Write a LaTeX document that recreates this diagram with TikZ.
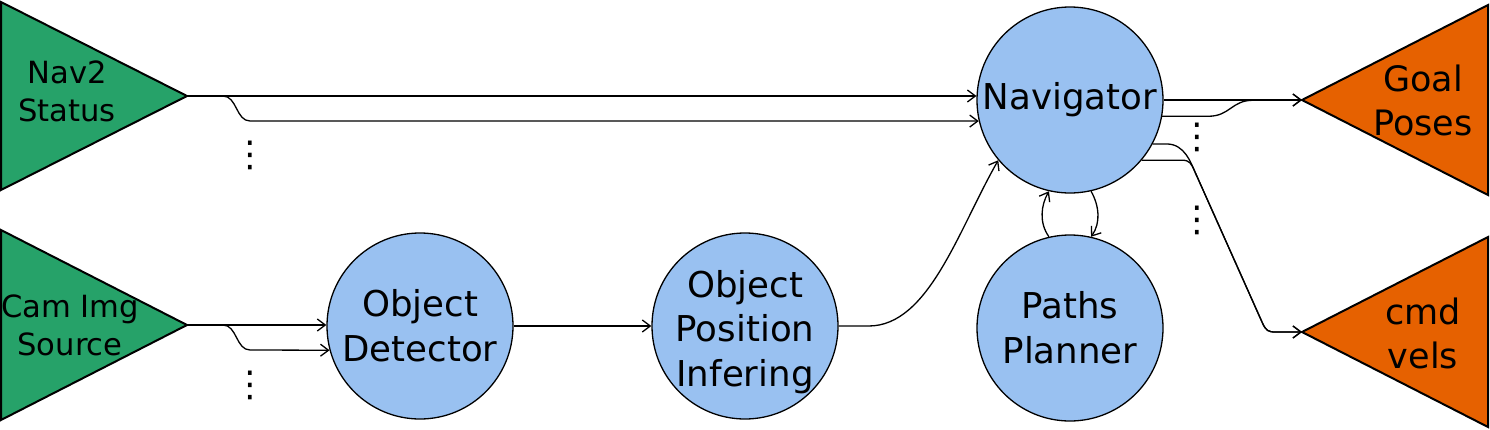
\documentclass[tikz,border=0pt]{standalone}
\usepackage{fontspec}
\setmainfont{DejaVu Sans}
\usetikzlibrary{arrows.meta}
\definecolor{srcgreen}{HTML}{26A269}
\definecolor{sinkorange}{HTML}{E66100}
\definecolor{procblue}{HTML}{99C1F1}

\begin{document}
\begin{tikzpicture}[x=0.5pt, y=-0.5pt,
  proc/.style={circle, draw, line width=0.65pt, fill=procblue, minimum size=93pt,
               inner sep=0pt, align=center, font=\fontsize{17.8}{22.3}\selectfont},
  proctxt/.style={inner sep=0pt, align=center, font=\fontsize{17.8}{22.3}\selectfont},
  src/.style={draw, line width=1pt, fill=srcgreen},
  sink/.style={draw, line width=1pt, fill=sinkorange},
  srctxt/.style={align=center, inner sep=0pt, font=\fontsize{15.3}{19}\selectfont},
  sinktxt/.style={align=center, inner sep=0pt, font=\fontsize{17.5}{22}\selectfont},
  arr/.style={-{Straight Barb[length=4pt,width=6pt]}, line width=0.65pt},
  more/.style={inner sep=0pt, font=\fontsize{17.8}{20}\selectfont}
]
  \useasboundingbox (0,0) rectangle (1490,429);

  % inputs
  \draw[src] (1,2) -- (187,96) -- (1,190) -- cycle;
  \draw[src] (1,230) -- (187,325) -- (1,420) -- cycle;
  \coordinate (navst) at (187,96);
  \coordinate (camsrc) at (187,325);
  \node[srctxt] (navsttxt) at (67,91) {Nav2\\Status};
  \node[srctxt] (camsrctxt) at (70,325) {Cam Img\\Source};

  % outputs
  \draw[sink] (1488,5) -- (1302,100) -- (1488,195) -- cycle;
  \draw[sink] (1488,237) -- (1302,332) -- (1488,427) -- cycle;
  \coordinate (goals) at (1302,100);
  \coordinate (cmdvel) at (1302,332);
  \node[sinktxt] (goalstxt) at (1423,100) {Goal\\Poses};
  \node[sinktxt] (cmdveltxt) at (1423,333) {cmd\\vels};

  % processes
  \node[proc] (nav)     at (1070,100) {Navigator};
  \node[proc] (planner) at (1070,328) {Paths\\Planner};
  \node[proc] (detect)  at (420,326)  {Object\\Detector};
  \node[proc] (infer)   at (745,326)  {};
  \node[proctxt] (infertxt) at (745,332) {Object\\Position\\Infering};

  % topics
  \draw[arr] (navst) -- (navst -| nav.177.5);
  \draw[arr] (navst) -- ++(36,0) .. controls +(14,0) and +(-14,0) .. ++(27,25) -- (nav.193);
  \draw[arr] (camsrc) -- (camsrc -| detect.west);
  \draw[arr] (camsrc) -- ++(36,0) .. controls +(14,0) and +(-14,0) .. ++(27,25) -- (detect.195);
  \draw[arr] (detect.east) -- (infer.west);
  \draw[arr] (infer.east) -- ++(30,0) .. controls +(60,0) and +(-40,70) .. (nav.220);
  \draw[arr] (planner.103) .. controls +(-10,-14) and +(-8,14) .. (nav.257);
  \draw[arr] (nav.283) .. controls +(8,14) and +(10,-14) .. (planner.77);
  \draw[arr] (nav.east) -- (goals);
  \draw[arr] (nav.350) -- ++(46,0) .. controls +(22,0) and +(-22,0) .. ++(45,-16) -- (goals);
  \draw[arr] (nav.320) -- ++(40,0) .. controls +(8,0) and +(-4,-9) .. (1195,172)
    -- (1262,322) .. controls +(4,9) and +(-8,0) .. (1276,332) -- (cmdvel);
  \draw[arr] (nav.332) -- ++(14,0) .. controls +(18,0) and +(-4,-9) .. (1195,172)
    -- (1262,322) .. controls +(4,9) and +(-8,0) .. (1276,332) -- (cmdvel);

  % more topics
  \node[more] (navstmore)  at (250,155)  {⋮};
  \node[more] (camsrcmore) at (250,385)  {⋮};
  \node[more] (goalsmore)  at (1197,137) {⋮};
  \node[more] (cmdvelmore) at (1197,220) {⋮};
\end{tikzpicture}
\end{document}
